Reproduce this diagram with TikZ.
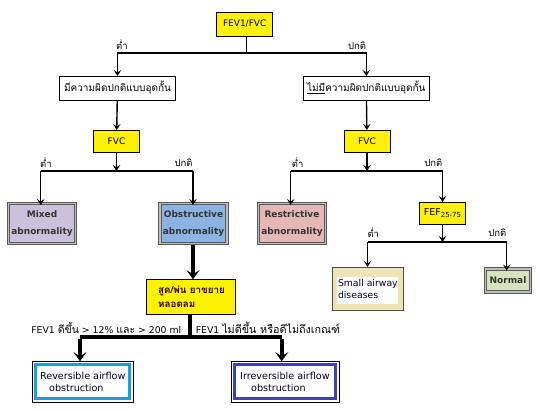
\documentclass[tikz,border=0pt]{standalone}
\usepackage{fontspec}
\setmainfont{DejaVu Sans}
\newfontfamily\thai[Script=Thai]{Loma}
\usetikzlibrary{arrows.meta}
\definecolor{mixc}{RGB}{204,193,218}
\definecolor{obsc}{RGB}{141,179,226}
\definecolor{resc}{RGB}{229,184,183}
\definecolor{norc}{RGB}{215,227,188}
\definecolor{beig}{RGB}{238,228,182}
\definecolor{cyanb}{RGB}{20,160,225}
\definecolor{blueb}{RGB}{63,63,191}
\begin{document}
\begin{tikzpicture}[x=1pt,y=-1pt,
 base/.style={inner sep=0pt, outer sep=0pt, font=\fontsize{9}{10}\selectfont},
 ybox/.style={base, draw=black, line width=0.8pt, fill=yellow},
 wbox/.style={base, draw=black, line width=0.8pt, fill=white},
 cbox/.style={base, draw=black!25, line width=2.8pt, align=center, text=black!80, font=\bfseries\fontsize{9}{17}\selectfont},
 edgeline/.style={black!65, line width=0.9pt},
 lab/.style={inner sep=0pt, font=\thai\fontsize{9.5}{10}\selectfont},
 bl/.style={inner sep=0pt, font=\fontsize{9.3}{10}\selectfont},
 ln/.style={line width=1.4pt},
 conn/.style={ln, -{Stealth[length=6pt,width=7.5pt,inset=2.5pt]}},
 tln/.style={line width=3.6pt},
 tconn/.style={tln, -{Stealth[length=9pt,width=13pt,inset=4pt]}},
]
\fill[white] (0,0) rectangle (540,411);
\useasboundingbox (0,0) rectangle (540,411);

% nodes
\node[ybox, minimum width=56pt, minimum height=24pt] (top) at (244.7,24) {FEV1/FVC};
\node[wbox, minimum width=116pt, minimum height=24pt] (L1) at (117.5,88) {\thai\fontsize{10}{11}\selectfont มีความผิดปกติแบบอุดกั้น};
\node[wbox, minimum width=126pt, minimum height=24pt] (R1) at (366.3,88) {\thai\fontsize{10}{11}\selectfont\underline{ไม่มี}ความผิดปกติแบบอุดกั้น};
\node[ybox, minimum width=46pt, minimum height=22pt] (Lfvc) at (116.5,141) {FVC};
\node[ybox, minimum width=46pt, minimum height=22pt] (Rfvc) at (367,141) {FVC};
\node[cbox, fill=mixc, minimum width=67pt, minimum height=40pt] (mixed) at (42,223.5) {Mixed\\abnormality};
\node[cbox, fill=obsc, minimum width=67pt, minimum height=40pt] (obst) at (193.5,223.5) {Obstructive\\abnormality};
\node[cbox, fill=resc, minimum width=67pt, minimum height=40pt] (restr) at (292,223.5) {Restrictive\\abnormality};
\node[cbox, fill=norc, minimum width=45pt, minimum height=23pt] (normal) at (508,280.5) {Normal};
\foreach \n in {mixed,obst,restr,normal}{
  \draw[edgeline] ([shift={(-1.2,-1.2)}]\n.north west) rectangle ([shift={(1.2,1.2)}]\n.south east);
  \draw[edgeline] ([shift={(1.2,1.2)}]\n.north west) rectangle ([shift={(-1.2,-1.2)}]\n.south east);
}
\node[ybox, minimum width=46pt, minimum height=22pt, font=\fontsize{9.5}{10}\selectfont] (fef) at (442.5,213) {FEF\raisebox{-1.2pt}{\fontsize{7}{7}\selectfont 25-75}};
\node[base, draw=black!70, line width=0.6pt, fill=beig, minimum width=71pt, minimum height=43pt] (small) at (367.5,288.5) {};
\fill[white] ([shift={(5,10)}]small.north west) rectangle ([shift={(-5,-6)}]small.south east);
\node[base, anchor=north west, align=left, font=\fontsize{9.3}{12}\selectfont, text=black!85!blue] (smalltxt) at ([shift={(6,12)}]small.north west) {Small airway\\diseases};
\node[ybox, minimum width=89pt, minimum height=35pt, align=left, font=\thai\bfseries\fontsize{9.8}{14}\selectfont, text=black!85!red] (bronch) at (191,296.7) {\hspace*{1pt}สูด/พ่น ยาขยาย\\\hspace*{1pt}หลอดลม};
\node[wbox, minimum width=101pt, minimum height=41pt] (rev) at (82.8,381.7) {};
\draw[cyanb, line width=3pt] ([shift={(3.5,3.5)}]rev.north west) rectangle ([shift={(-3.5,-3.5)}]rev.south east);
\node[base, align=left, font=\fontsize{9.6}{12.5}\selectfont, text=black!85!blue] (revtxt) at (rev) {Reversible airflow\\\hspace*{9pt}obstruction};
\node[wbox, minimum width=108pt, minimum height=41pt] (irr) at (284.9,381.7) {};
\draw[blueb, line width=3pt] ([shift={(3.5,3.5)}]irr.north west) rectangle ([shift={(-3.5,-3.5)}]irr.south east);
\node[base, align=left, font=\fontsize{9.6}{12.5}\selectfont, text=black!85!blue] (irrtxt) at (irr) {Irreversible airflow\\\hspace*{11pt}obstruction};

% connectors
\coordinate (j1) at (246.7,53);
\draw[ln] (top.south -| j1) -- (j1);
\draw[conn] (j1) -| (L1.north);
\draw[conn] (j1) -| (R1.north);
\draw[conn] (L1) -- (Lfvc);
\draw[conn] (R1) -- (Rfvc);

\coordinate (j2) at (116.5,171);
\draw[conn] (Lfvc) -- (j2);
\draw[ln] (j2) -- (40.7,171) coordinate (j2l);
\draw[ln] (j2) -- (193,171) coordinate (j2r);
\draw[conn] (j2l) -- ([yshift=-1.5pt]j2l |- mixed.north);
\draw[conn] (j2r) -- ([yshift=-1.5pt]j2r |- obst.north);

\coordinate (j3) at (367,171);
\draw[conn] (Rfvc) -- (j3);
\draw[ln] (j3) -- (290.7,171) coordinate (j3l);
\draw[ln] (j3) -- (442.5,171) coordinate (j3r);
\draw[conn] (j3l) -- ([yshift=-1.5pt]j3l |- restr.north);
\draw[conn] (j3r) -- (fef.north);

\coordinate (j4) at (442.5,242);
\draw[conn] (fef) -- (j4);
\draw[ln] (j4) -- (367.5,242) coordinate (j4l);
\draw[ln] (j4) -- (506.7,242) coordinate (j4r);
\draw[conn] (j4l) -- (small.north);
\draw[conn] (j4r) -- ([yshift=-1.5pt]j4r |- normal.north);

\coordinate (ob) at (193,245);
\draw[tconn] (ob) -- (ob |- bronch.north);
\coordinate (j5) at (190,336.7);
\draw[tln] (bronch.south -| j5) -- (j5);
\draw[tln] (j5) -- (80,336.7) coordinate (j5l);
\draw[tln] (j5) -- (281.7,336.7) coordinate (j5r);
\draw[tconn] ([yshift=-1.8pt]j5l) -- (j5l |- rev.north);
\draw[tconn] ([yshift=-1.8pt]j5r) -- (j5r |- irr.north);

% labels
\node[lab] (t1) at (122,45) {ต่ำ};
\node[lab] (t2) at (357,46) {ปกติ};
\node[lab] (t3) at (46,162.5) {ต่ำ};
\node[lab] (t4) at (183.5,163) {ปกติ};
\node[lab] (t5) at (297.7,162.5) {ต่ำ};
\node[lab] (t6) at (433.3,163) {ปกติ};
\node[lab] (t7) at (373.3,233) {ต่ำ};
\node[lab] (t8) at (497.3,233) {ปกติ};
\node[bl] (b1) at (106.3,328) {FEV1 {\thai\fontsize{10.5}{10}\selectfont ดีขึ้น} > 12\% {\thai\fontsize{10.5}{10}\selectfont และ} > 200 ml};
\node[bl] (b2) at (268,328) {FEV1 {\thai\fontsize{10.8}{10}\selectfont ไม่ดีขึ้น หรือดีไม่ถึงเกณฑ์}};
\end{tikzpicture}
\end{document}
